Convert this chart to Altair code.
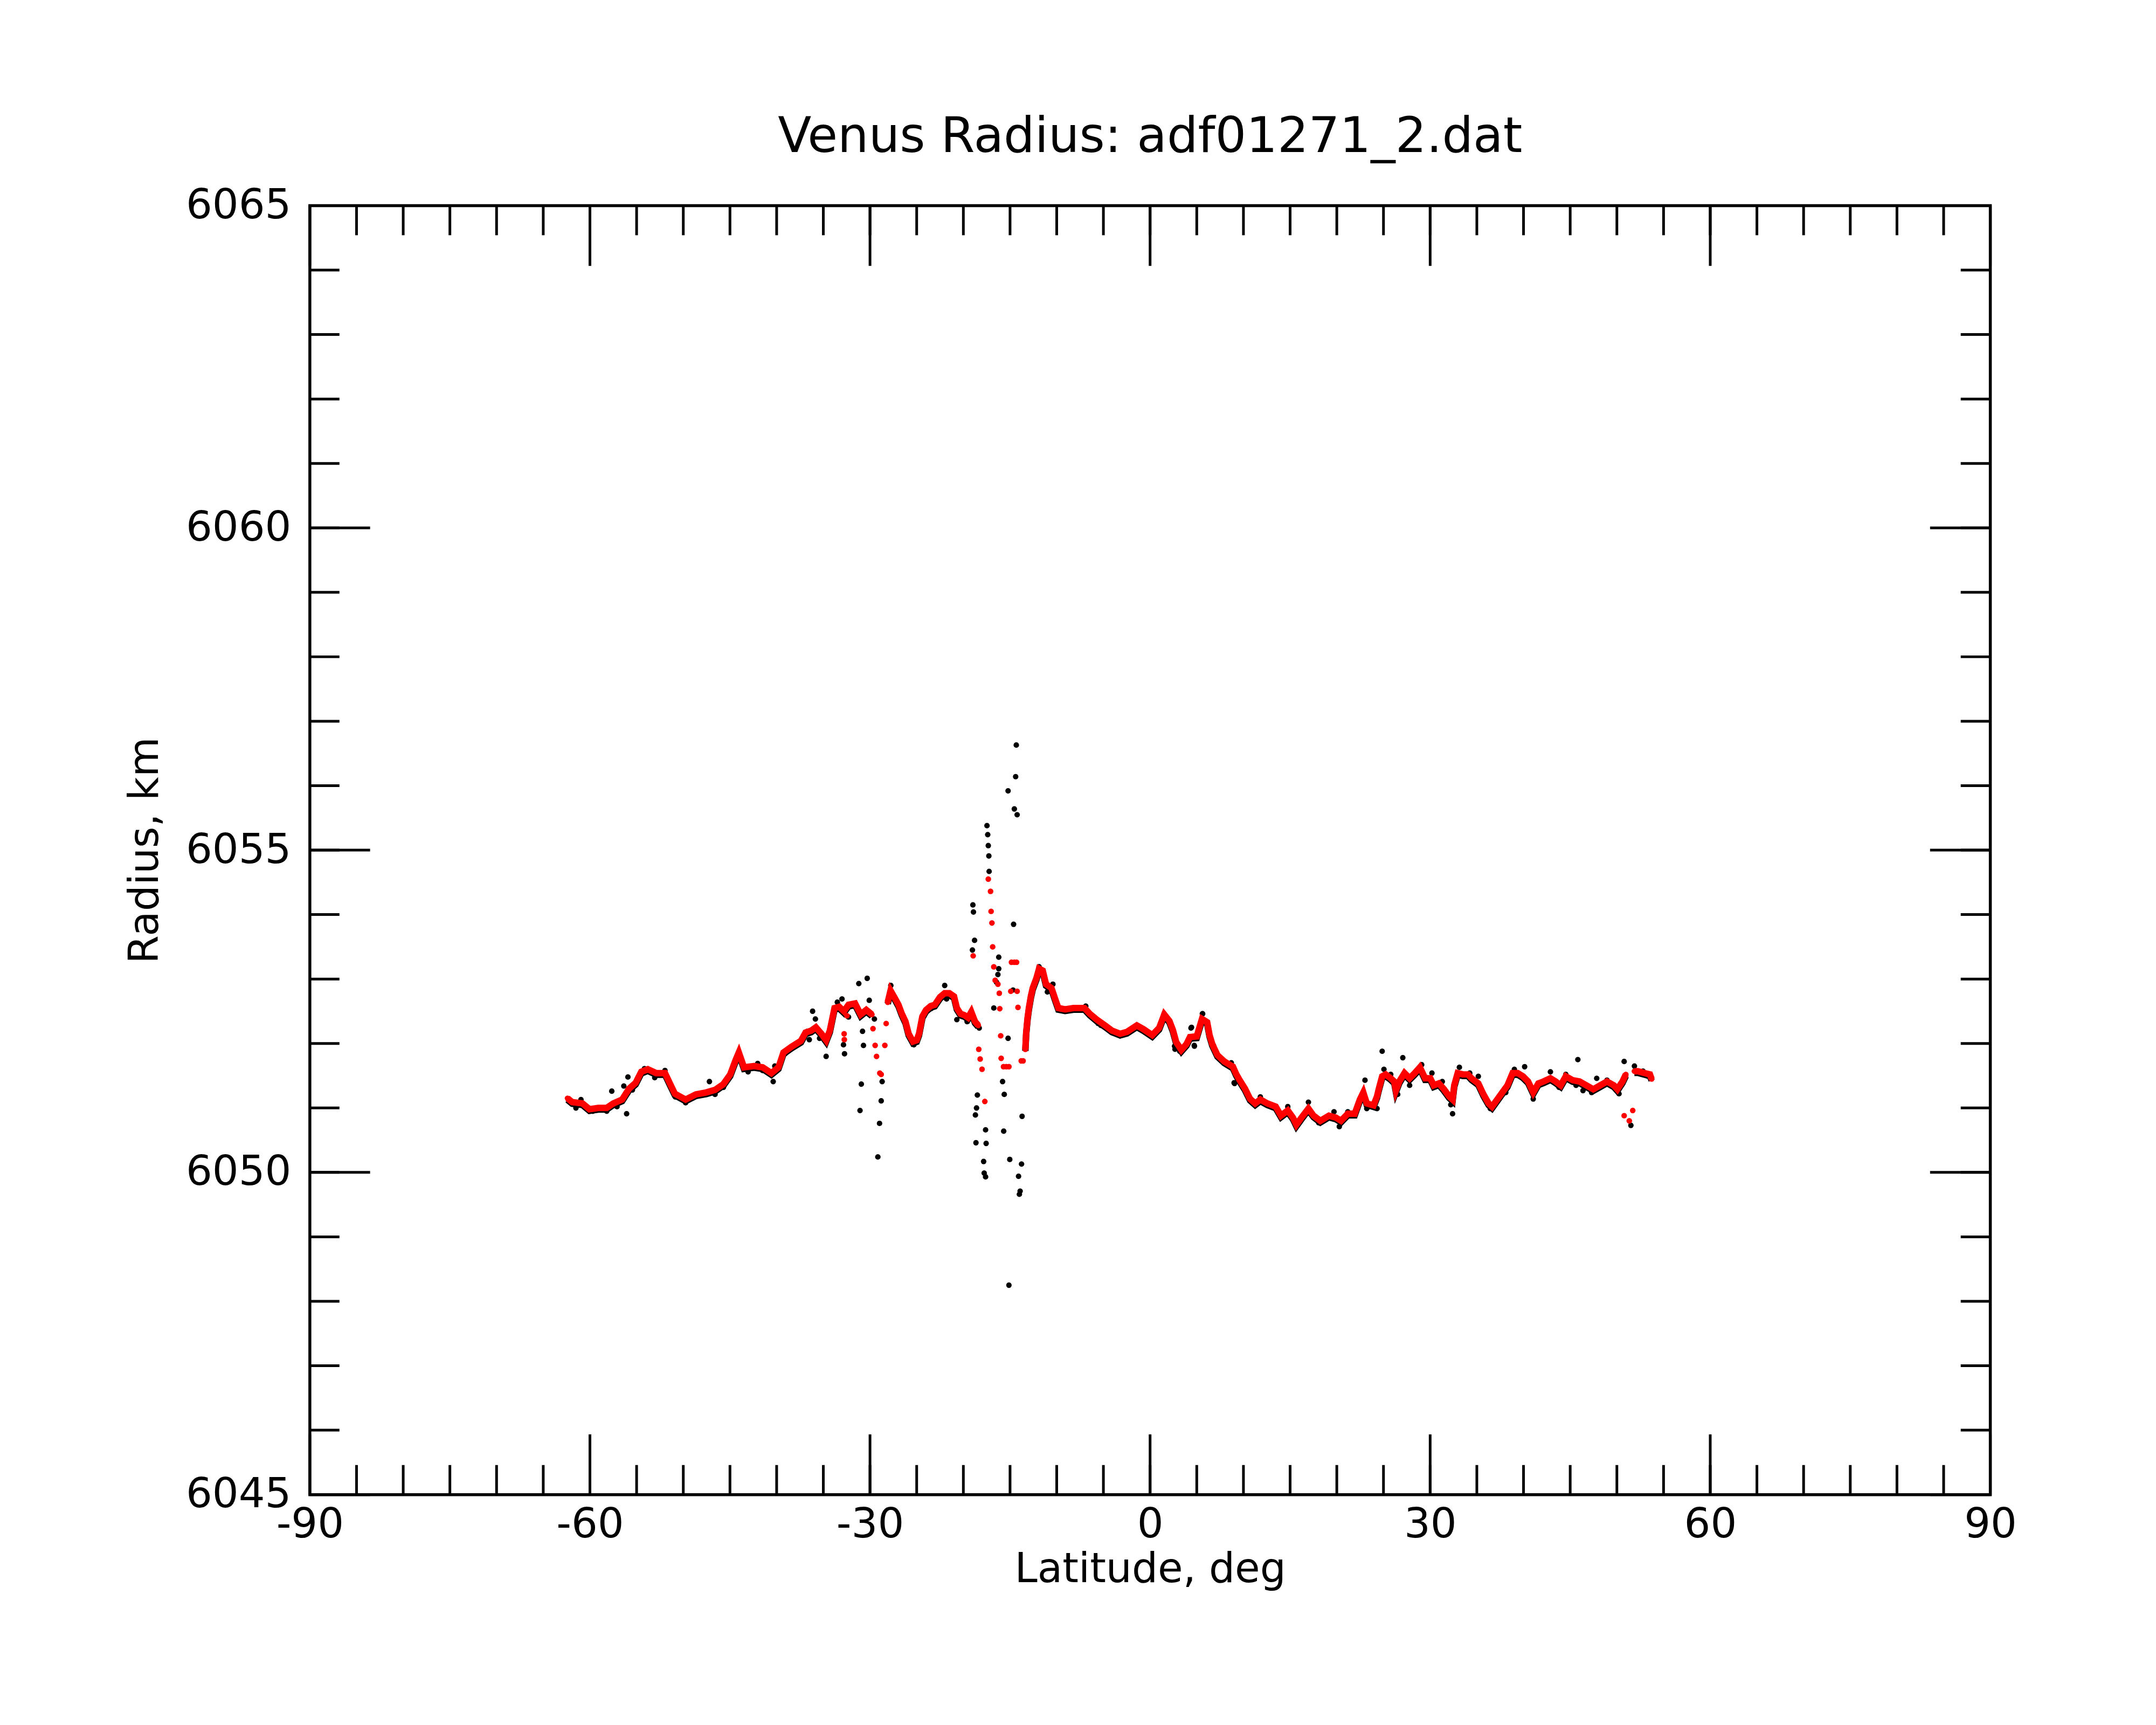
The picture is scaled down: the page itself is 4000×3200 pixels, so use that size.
import altair as alt
import pandas as pd

# ---------------- data ----------------
# red series, continuous runs and isolated dots
red_run1_lat = [-62.4, -61.9, -60.8, -60.05, -59.1, -58.2, -57.5, -56.55, -55.8, -55.1, -54.5, -53.8,
                -52.9, -51.96, -51.4, -50.9, -49.75, -48.65, -47.55, -46.6, -45.7, -44.97, -44.4, -44.05,
                -43.5, -42.4, -41.5, -40.56, -39.8, -39.27, -38.4, -37.4, -36.9, -36.3, -35.8, -35.2,
                -34.7, -34.3, -33.8, -33.3, -32.8, -32.3, -31.6, -31.0, -30.4, -29.8]
red_run1_rad = [6051.15, 6051.09, 6051.07, 6050.98, 6051.00, 6051.00, 6051.07, 6051.13, 6051.30, 6051.39, 6051.56, 6051.60,
                6051.54, 6051.54, 6051.37, 6051.22, 6051.13, 6051.21, 6051.24, 6051.28, 6051.37, 6051.52, 6051.74, 6051.86,
                6051.63, 6051.65, 6051.63, 6051.54, 6051.63, 6051.86, 6051.95, 6052.04, 6052.17, 6052.20, 6052.25, 6052.15,
                6052.05, 6052.20, 6052.55, 6052.57, 6052.50, 6052.60, 6052.62, 6052.45, 6052.52, 6052.45]

red_dots1_lat = [-32.77, -32.75, -32.47, -29.68, -29.45, -29.3, -28.95, -28.8, -28.41, -28.27]
red_dots1_rad = [6052.15, 6052.06, 6052.43, 6052.23, 6051.97, 6051.80, 6051.54, 6051.52, 6051.97, 6052.31]

red_run2_lat = [-28.1, -27.8, -27.33, -26.95, -26.59, -26.2, -25.86, -25.4, -25.0, -24.75, -24.39, -24.0,
                -23.5, -23.06, -22.5, -22.0, -21.5, -21.0, -20.7, -20.3, -19.9, -19.5, -19.15, -18.75, -18.4]
red_run2_rad = [6052.64, 6052.82, 6052.70, 6052.60, 6052.46, 6052.34, 6052.15, 6052.03, 6052.05, 6052.15, 6052.42, 6052.52,
                6052.58, 6052.60, 6052.72, 6052.78, 6052.78, 6052.73, 6052.55, 6052.46, 6052.44, 6052.40, 6052.49, 6052.34, 6052.28]

red_dots2_lat = [-18.95, -18.35, -18.2, -18.0, -17.7, -17.33, -17.09, -17.03, -16.94, -16.86, -16.74, -16.59,
                 -16.3, -16.15, -16.1, -16.0, -15.95, -15.7, -15.4, -15.12, -14.92, -14.85, -14.55, -14.3,
                 -14.24, -14.15, -13.8, -13.6]
red_dots2_rad = [6053.36, 6051.91, 6051.76, 6051.60, 6051.10, 6054.55, 6054.36, 6054.05, 6053.87, 6053.50, 6053.19, 6052.98,
                 6052.92, 6052.78, 6052.54, 6052.12, 6051.77, 6051.64, 6051.64, 6051.64, 6052.81, 6053.26, 6053.26, 6053.26,
                 6052.81, 6052.56, 6051.73, 6051.73]

red_run3_lat = [-13.36, -13.27, -13.21, -13.12, -12.98, -12.77, -12.57, -12.18, -11.89, -11.5, -11.15, -10.56,
                -10.12, -9.83, -9.1, -8.21, -7.03, -6.45, -5.71, -4.82, -4.09, -3.21, -2.48, -1.42, -0.69,
                0.23, 0.97, 1.52, 2.07, 2.44, 2.8, 3.35, 3.9, 4.27, 5.0, 5.56, 6.11, 6.37, 6.66, 7.21, 7.95,
                8.87, 9.24, 9.6, 10.16, 10.71, 11.26, 11.81, 12.55, 13.46, 14.02, 14.75, 15.3, 15.67, 16.22,
                16.96, 17.51, 18.24, 19.16, 19.9, 20.45, 21.18, 21.92, 22.47, 22.84, 23.21, 23.94, 24.31,
                24.49, 24.86, 25.23, 25.78, 26.15, 26.33, 26.7, 27.25, 27.8, 28.35, 28.9, 29.46, 30.01,
                30.38, 30.93, 31.48, 32.03, 32.4, 32.58, 32.95, 33.5, 34.05, 34.42, 35.16, 35.71, 36.26,
                36.63, 37.18, 37.73, 38.28, 38.83, 39.38, 39.94, 40.49, 41.04, 41.59, 42.14, 42.88, 43.43,
                43.98, 44.53, 45.27, 46.0, 46.74, 47.47, 48.21, 48.94, 49.68, 50.05, 50.6, 50.96]
red_run3_rad = [6051.91, 6052.17, 6052.26, 6052.40, 6052.55, 6052.73, 6052.86, 6053.01, 6053.16, 6053.13, 6052.92, 6052.86,
                6052.67, 6052.55, 6052.53, 6052.55, 6052.55, 6052.46, 6052.37, 6052.28, 6052.20, 6052.15, 6052.18, 6052.28, 6052.22,
                6052.13, 6052.24, 6052.45, 6052.35, 6052.21, 6052.02, 6051.90, 6051.99, 6052.10, 6052.11, 6052.38, 6052.33, 6052.13, 6051.99, 6051.82, 6051.72,
                6051.64, 6051.52, 6051.43, 6051.30, 6051.14, 6051.07, 6051.13, 6051.07, 6051.02, 6050.88, 6050.96, 6050.85, 6050.74, 6050.85,
                6050.99, 6050.88, 6050.80, 6050.88, 6050.85, 6050.80, 6050.91, 6050.91, 6051.13, 6051.24, 6051.07, 6051.04, 6051.18,
                6051.29, 6051.49, 6051.52, 6051.46, 6051.41, 6051.27, 6051.41, 6051.54, 6051.46, 6051.54, 6051.63, 6051.46, 6051.46,
                6051.35, 6051.38, 6051.29, 6051.18, 6051.13, 6051.35, 6051.54, 6051.52, 6051.52, 6051.46, 6051.38, 6051.21, 6051.07,
                6051.02, 6051.13, 6051.24, 6051.35, 6051.54, 6051.54, 6051.49, 6051.41, 6051.24, 6051.38, 6051.41, 6051.46, 6051.41,
                6051.35, 6051.49, 6051.43, 6051.41, 6051.35, 6051.29, 6051.35, 6051.41, 6051.35, 6051.29, 6051.41, 6051.52]

red_dots3_lat = [50.78, 51.33, 51.7]
red_dots3_rad = [6050.88, 6050.80, 6050.96]

red_run4_lat = [51.88, 52.25, 52.99, 53.54, 53.72]
red_run4_rad = [6051.57, 6051.57, 6051.54, 6051.52, 6051.45]

# black (raw) series
black_lat = [
    -61.5, -60.96, -59.7, -58.2, -57.66, -57.1, -56.37, -56.07, -55.93, -55.45, -54.16, -53.06,
    -51.96, -50.85, -49.75, -48.3, -47.2, -46.6, -45.7, -44.05, -43.06, -42.03, -41.5, -40.37,
    -40.2, -39.1, -37.6, -36.7, -36.5, -36.15, -35.85, -35.4, -34.7, -33.5, -33.0, -32.84,
    -32.73, -32.3, -31.2, -30.3, -30.08, -30.8, -30.7, -30.93, -31.07, -29.53, -29.16, -28.98,
    -28.8, -28.7, -27.77, -25.3, -23.46, -22.0, -21.8, -20.7, -19.6, -18.3,
    -18.98, -18.92, -18.8, -19.03, -18.5, -18.59, -18.71, -18.65, -17.62, -17.56, -17.83, -17.77,
    -17.62, -17.47, -17.39, -17.33, -17.27, -17.24, -16.21, -16.21, -16.3, -16.45, -16.74, -15.21,
    -14.33, -14.4, -14.54, -14.24, -14.62, -14.68, -15.21, -15.8, -15.62, -15.68, -15.03, -13.71,
    -13.77, -14.09, -13.92, -14.0, -15.12, -11.89, -11.0, -10.41, -6.89, -5.56, -5.27, -4.09,
    -3.21, 1.5, 2.67, 4.44, 4.73, 5.6, 6.79, 8.7, 9.0,
    2.62, 3.17, 4.38, 4.75, 5.63, 9.05, 8.7, 11.81, 14.02, 14.75, 15.67, 16.96, 18.06, 19.7,
    20.27, 21.18, 23.02, 23.21, 24.31, 24.86, 25.05, 25.78, 26.52, 27.07, 27.8, 29.09, 30.19,
    31.3, 32.21, 32.4, 33.13, 34.24, 35.16, 36.44, 38.1, 39.02, 40.12, 41.04, 42.88, 43.8,
    44.53, 45.82, 45.63, 46.37, 47.29, 47.84, 48.94, 50.23, 50.78, 51.5, 51.88, 52.8, 53.35,
]
black_rad = [
    6051.00, 6051.13, 6050.95, 6050.95, 6051.26, 6051.02, 6051.34, 6050.91, 6051.48, 6051.28, 6051.61, 6051.47,
    6051.58, 6051.17, 6051.08, 6051.22, 6051.41, 6051.21, 6051.32, 6051.87, 6051.56, 6051.69, 6051.58, 6051.41,
    6051.65, 6051.84, 6052.00, 6052.19, 6052.06, 6052.50, 6052.38, 6052.08, 6051.80, 6052.64, 6052.69, 6051.98,
    6051.84, 6052.41, 6052.93, 6053.01, 6052.67, 6052.19, 6051.97, 6051.37, 6050.96, 6052.38, 6050.24, 6050.76,
    6051.11, 6051.41, 6052.90, 6051.98, 6052.54, 6052.90, 6052.69, 6052.37, 6052.34, 6052.24,
    6054.15, 6054.04, 6053.60, 6053.45, 6051.20, 6051.00, 6050.89, 6050.46, 6050.66, 6050.45, 6050.17, 6049.99,
    6049.93, 6055.38, 6055.24, 6055.07, 6054.91, 6054.67, 6053.34, 6053.16, 6053.07, 6052.95, 6052.55, 6055.92,
    6056.63, 6056.14, 6055.64, 6055.55, 6053.85, 6052.83, 6052.08, 6051.41, 6051.21, 6050.64, 6050.20, 6050.87,
    6050.13, 6049.94, 6049.71, 6049.66, 6048.25, 6053.19, 6052.80, 6052.92, 6052.58, 6052.31, 6052.28, 6052.18,
    6052.12, 6052.46, 6051.91, 6052.25, 6051.97, 6052.46, 6051.97, 6051.70, 6051.39,
    6051.96, 6051.88, 6052.24, 6051.96, 6052.46, 6051.38, 6051.67, 6051.17, 6050.88, 6051.02, 6050.71, 6051.09, 6050.77, 6050.94,
    6050.71, 6050.94, 6051.43, 6050.99, 6050.99, 6051.88, 6051.60, 6051.52, 6051.21, 6051.78, 6051.35, 6051.67, 6051.54,
    6051.41, 6051.05, 6050.91, 6051.63, 6051.54, 6051.49, 6050.99, 6051.24, 6051.60, 6051.64, 6051.14, 6051.56, 6051.32,
    6051.52, 6051.75, 6051.35, 6051.27, 6051.24, 6051.46, 6051.43, 6051.22, 6051.72, 6050.73, 6051.65, 6051.57, 6051.49,
]

x_major = [-90, -60, -30, 0, 30, 60, 90]
x_minor = list(range(-85, 90, 5))
y_major = [6045, 6050, 6055, 6060, 6065]
y_minor = list(range(6046, 6065))

# ---------------- chart ----------------
W, H = 3124, 2396
FONT = "DejaVu Sans"
MAJ, MIN = 112, 55

red_parts = [
    (red_run1_lat, red_run1_rad, 1), (red_dots1_lat, red_dots1_rad, 0),
    (red_run2_lat, red_run2_rad, 2), (red_dots2_lat, red_dots2_rad, 0),
    (red_run3_lat, red_run3_rad, 3), (red_dots3_lat, red_dots3_rad, 0),
    (red_run4_lat, red_run4_rad, 4),
]
df_red = pd.concat(
    [pd.DataFrame({"lat": la, "rad": ra, "seg": s}) for la, ra, s in red_parts],
    ignore_index=True)
df_black = pd.DataFrame({"lat": black_lat, "rad": black_rad})

xs = alt.Scale(domain=[-90, 90], nice=False, zero=False)
ys = alt.Scale(domain=[6045, 6065], nice=False, zero=False)

xaxis = alt.Axis(values=x_major, tickSize=0, domain=False, grid=False,
                 labelExpr="'' + datum.value", labelFont=FONT, labelFontSize=77,
                 labelColor="black", labelPadding=18, labelFlush=False, labelOverlap=False,
                 labelLimit=0,
                 title="Latitude, deg", titleFont=FONT, titleFontSize=76,
                 titleFontWeight="normal", titleColor="black", titlePadding=8)
yaxis = alt.Axis(values=y_major, tickSize=0, domain=False, grid=False,
                 labelExpr="'' + datum.value", labelFont=FONT, labelFontSize=77,
                 labelColor="black", labelPadding=35, labelFlush=False, labelOverlap=False,
                 labelLimit=0,
                 title="Radius, km", titleFont=FONT, titleFontSize=76,
                 titleFontWeight="normal", titleColor="black", titlePadding=67)

black = alt.Chart(df_black).mark_circle(color="black", size=105, opacity=1).encode(
    x=alt.X("lat:Q", scale=xs, axis=xaxis),
    y=alt.Y("rad:Q", scale=ys, axis=yaxis),
)
# raw points hugging the smoothed track show as a dark fringe under the red band
black_band = alt.Chart(df_red).transform_filter("datum.seg > 0").mark_line(
    color="black", strokeWidth=12, yOffset=3).encode(
    x="lat:Q", y="rad:Q", detail="seg:N", order="lat:Q")
red_line = alt.Chart(df_red).transform_filter("datum.seg > 0").mark_line(
    color="#ff0000", strokeWidth=12).encode(
    x="lat:Q", y="rad:Q", detail="seg:N", order="lat:Q")
red_pts = alt.Chart(df_red).mark_circle(color="#ff0000", size=110, opacity=1).encode(
    x="lat:Q", y="rad:Q")


def xticks(vals, length, top):
    d = pd.DataFrame({"lat": vals})
    if top:
        enc = dict(y=alt.value(0), y2=alt.value(length))
    else:
        enc = dict(y=alt.value(H), y2=alt.value(H - length))
    return alt.Chart(d).mark_rule(color="black", strokeWidth=5).encode(x="lat:Q", **enc)


def yticks(vals, length, right):
    d = pd.DataFrame({"rad": vals})
    if right:
        enc = dict(x=alt.value(W), x2=alt.value(W - length))
    else:
        enc = dict(x=alt.value(0), x2=alt.value(length))
    return alt.Chart(d).mark_rule(color="black", strokeWidth=5).encode(y="rad:Q", **enc)


ticks = [
    xticks(x_major, MAJ, False), xticks(x_minor, MIN, False),
    xticks(x_major, MAJ, True), xticks(x_minor, MIN, True),
    yticks(y_major, MAJ, False), yticks(y_minor, MIN, False),
    yticks(y_major, MAJ, True), yticks(y_minor, MIN, True),
]

chart = alt.layer(black, black_band, red_line, red_pts, *ticks).properties(
    width=W, height=H,
    title=alt.TitleParams("Venus Radius: adf01271_2.dat", font=FONT, fontSize=91,
                          fontWeight="normal", color="black", anchor="middle",
                          baseline="alphabetic", offset=-30),
    autosize=alt.AutoSizeParams(type="none"),
    padding={"left": 568, "top": 371, "right": 300, "bottom": 425},
    background="white",
).configure_view(stroke="black", strokeWidth=5.5)

chart.save("out.html", embed_options={"renderer": "svg", "actions": False})
